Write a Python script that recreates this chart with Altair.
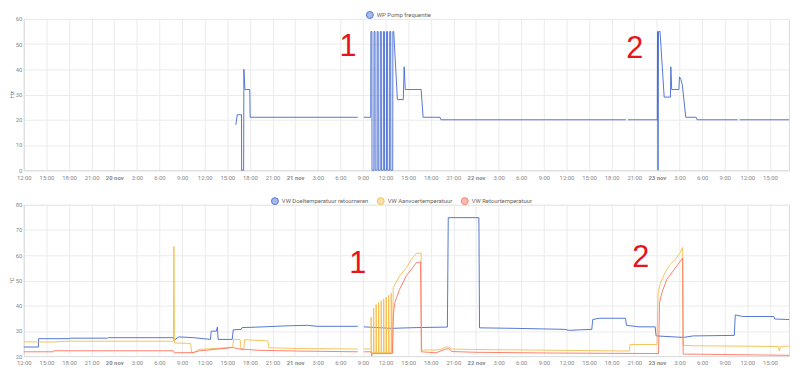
import altair as alt
import pandas as pd

wp_name = "WP Pomp frequentie"
wp_time = [
    "2023-11-20 16:08", "2023-11-20 16:19", "2023-11-20 16:53", "2023-11-20 16:54", "2023-11-20 17:10",
    "2023-11-20 17:12", "2023-11-20 17:20", "2023-11-20 17:59", "2023-11-20 18:02", "2023-11-21 08:19",
    "2023-11-21 08:40",
    "2023-11-21 09:07", "2023-11-21 10:02",
    "2023-11-21 10:03", "2023-11-21 10:11", "2023-11-21 10:12", "2023-11-21 10:27",
    "2023-11-21 10:28", "2023-11-21 10:36", "2023-11-21 10:37", "2023-11-21 10:52",
    "2023-11-21 10:53", "2023-11-21 11:01", "2023-11-21 11:02", "2023-11-21 11:17",
    "2023-11-21 11:18", "2023-11-21 11:26", "2023-11-21 11:27", "2023-11-21 11:42",
    "2023-11-21 11:43", "2023-11-21 11:51", "2023-11-21 11:52", "2023-11-21 12:07",
    "2023-11-21 12:08", "2023-11-21 12:16", "2023-11-21 12:17", "2023-11-21 12:32",
    "2023-11-21 12:33", "2023-11-21 12:41", "2023-11-21 12:42", "2023-11-21 12:57",
    "2023-11-21 12:58", "2023-11-21 13:05",
    "2023-11-21 13:34", "2023-11-21 14:21", "2023-11-21 14:28", "2023-11-21 14:37", "2023-11-21 16:43",
    "2023-11-21 16:59", "2023-11-21 19:13", "2023-11-21 19:21", "2023-11-22 19:53",
    "2023-11-22 20:00",
    "2023-11-22 20:09", "2023-11-23 00:03", "2023-11-23 00:05", "2023-11-23 00:09", "2023-11-23 00:13",
    "2023-11-23 00:25", "2023-11-23 00:58", "2023-11-23 01:48", "2023-11-23 01:51", "2023-11-23 01:58",
    "2023-11-23 02:55", "2023-11-23 03:00", "2023-11-23 03:11", "2023-11-23 03:22", "2023-11-23 03:50",
    "2023-11-23 05:13", "2023-11-23 05:20", "2023-11-23 10:43",
    "2023-11-23 10:50",
    "2023-11-23 10:59", "2023-11-23 17:33",
]
wp_value = [
    18, 22, 22, 0, 0,
    40, 32, 32, 21, 21,
    None,
    21, 21,
    55, 55, 0, 0,
    55, 55, 0, 0,
    55, 55, 0, 0,
    55, 55, 0, 0,
    55, 55, 0, 0,
    55, 55, 0, 0,
    55, 55, 0, 0,
    55, 55,
    28, 28, 41, 32, 32,
    21, 21, 20, 20,
    None,
    20, 20, 55, 0, 55,
    55, 29, 29, 41, 32,
    32, 37, 36, 34, 21,
    21, 20, 20,
    None,
    20, 20,
]

doel_name = "VW Doeltemperatuur retourneren"
doel_time = [
    "2023-11-19 12:00", "2023-11-19 13:56", "2023-11-19 13:58", "2023-11-19 18:08", "2023-11-19 18:12",
    "2023-11-19 23:07", "2023-11-19 23:11", "2023-11-20 07:51", "2023-11-20 07:59", "2023-11-20 08:34",
    "2023-11-20 10:32", "2023-11-20 12:46", "2023-11-20 12:52", "2023-11-20 13:33", "2023-11-20 13:41",
    "2023-11-20 13:47", "2023-11-20 15:39", "2023-11-20 15:47", "2023-11-20 16:50", "2023-11-20 16:58",
    "2023-11-20 19:04", "2023-11-20 23:00", "2023-11-21 01:38", "2023-11-21 02:56", "2023-11-21 08:19",
    "2023-11-21 08:40",
    "2023-11-21 09:07", "2023-11-21 12:47", "2023-11-21 16:04", "2023-11-21 20:12", "2023-11-21 20:19",
    "2023-11-22 00:23", "2023-11-22 00:28", "2023-11-22 05:11", "2023-11-22 11:45", "2023-11-22 12:25",
    "2023-11-22 13:43", "2023-11-22 15:22", "2023-11-22 15:29", "2023-11-22 16:21", "2023-11-22 19:50",
    "2023-11-22 19:58", "2023-11-22 21:36", "2023-11-22 23:46", "2023-11-22 23:54", "2023-11-23 03:31",
    "2023-11-23 04:49", "2023-11-23 10:16", "2023-11-23 10:24", "2023-11-23 11:23", "2023-11-23 15:31",
    "2023-11-23 15:38", "2023-11-23 17:33",
]
doel_value = [
    23.6, 23.6, 26.9, 26.9, 27.1,
    27.1, 27.3, 27.3, 26.4, 27.6,
    27.3, 26.6, 29.9, 29.9, 31.5,
    26.6, 26.6, 30.4, 30.6, 31.3,
    31.5, 32.0, 32.2, 31.8, 31.8,
    None,
    31.6, 31.0, 31.3, 31.5, 74.9,
    74.9, 31.2, 31.0, 30.6, 30.2,
    30.4, 30.6, 34.5, 35.0, 35.0,
    32.2, 31.6, 31.6, 28.0, 27.4,
    28.0, 28.2, 36.3, 35.7, 35.7,
    34.7, 34.5,
]

aanvoer_name = "VW Aanvoertemperatuur"
aanvoer_time = [
    "2023-11-19 12:00", "2023-11-19 15:54", "2023-11-19 18:08", "2023-11-20 07:51", "2023-11-20 07:55",
    "2023-11-20 07:59", "2023-11-20 10:08", "2023-11-20 10:16", "2023-11-20 10:40", "2023-11-20 11:11",
    "2023-11-20 15:43", "2023-11-20 15:50", "2023-11-20 16:42", "2023-11-20 16:50", "2023-11-20 17:10",
    "2023-11-20 17:18", "2023-11-20 20:23", "2023-11-20 20:31", "2023-11-21 00:19", "2023-11-21 08:19",
    "2023-11-21 08:40",
    "2023-11-21 09:07", "2023-11-21 10:04",
    "2023-11-21 10:05", "2023-11-21 10:08", "2023-11-21 10:24",
    "2023-11-21 10:25", "2023-11-21 10:28", "2023-11-21 10:44",
    "2023-11-21 10:45", "2023-11-21 10:48", "2023-11-21 11:04",
    "2023-11-21 11:05", "2023-11-21 11:08", "2023-11-21 11:24",
    "2023-11-21 11:25", "2023-11-21 11:28", "2023-11-21 11:44",
    "2023-11-21 11:45", "2023-11-21 11:48", "2023-11-21 12:04",
    "2023-11-21 12:05", "2023-11-21 12:08", "2023-11-21 12:24",
    "2023-11-21 12:25", "2023-11-21 12:28", "2023-11-21 12:44",
    "2023-11-21 12:45", "2023-11-21 12:48", "2023-11-21 12:56",
    "2023-11-21 13:01", "2023-11-21 13:52", "2023-11-21 14:45", "2023-11-21 15:25", "2023-11-21 16:04",
    "2023-11-21 16:43", "2023-11-21 16:47", "2023-11-21 18:41", "2023-11-21 19:29", "2023-11-21 20:00",
    "2023-11-21 20:24", "2023-11-21 20:47", "2023-11-21 23:56", "2023-11-22 10:26", "2023-11-22 20:21",
    "2023-11-22 20:26", "2023-11-23 00:01", "2023-11-23 00:09", "2023-11-23 00:16", "2023-11-23 00:26",
    "2023-11-23 00:53", "2023-11-23 01:19", "2023-11-23 01:46", "2023-11-23 02:25", "2023-11-23 03:04",
    "2023-11-23 03:25", "2023-11-23 03:29", "2023-11-23 04:49", "2023-11-23 12:26", "2023-11-23 16:06",
    "2023-11-23 16:14", "2023-11-23 16:26", "2023-11-23 17:33",
]
aanvoer_value = [
    25.6, 25.6, 25.9, 25.9, 63.5,
    25.2, 25.0, 21.4, 21.6, 22.6,
    23.5, 26.7, 26.5, 22.4, 22.6,
    26.5, 26.0, 23.3, 23.0, 22.8,
    None,
    22.8, 22.8,
    35.4, 21.4, 21.4,
    39.0, 21.4, 21.4,
    40.5, 21.4, 21.4,
    41.3, 21.4, 21.4,
    42.0, 21.4, 21.4,
    42.7, 21.4, 21.4,
    43.4, 21.4, 21.4,
    44.1, 21.4, 21.4,
    45.0, 21.4, 21.4,
    47.2, 51.8, 55.0, 58.3, 60.7,
    60.9, 22.4, 22.4, 22.8, 23.6,
    23.5, 22.8, 22.6, 22.3, 22.0,
    24.6, 24.6, 44.7, 46.5, 48.5,
    51.8, 54.4, 56.3, 58.3, 60.9,
    63.1, 24.3, 24.1, 23.9, 23.8,
    22.0, 23.9, 23.9,
]

retour_name = "VW Retourtemperatuur"
retour_time = [
    "2023-11-19 12:00", "2023-11-19 15:54", "2023-11-19 15:58", "2023-11-20 07:51", "2023-11-20 07:59",
    "2023-11-20 10:32", "2023-11-20 11:11", "2023-11-20 15:43", "2023-11-20 16:27", "2023-11-20 19:04",
    "2023-11-21 00:19", "2023-11-21 08:19",
    "2023-11-21 08:40",
    "2023-11-21 09:07", "2023-11-21 10:05", "2023-11-21 10:09", "2023-11-21 10:15", "2023-11-21 12:55",
    "2023-11-21 13:02", "2023-11-21 13:14", "2023-11-21 13:52", "2023-11-21 14:45", "2023-11-21 15:25",
    "2023-11-21 16:04", "2023-11-21 16:38", "2023-11-21 16:45", "2023-11-21 18:41", "2023-11-21 20:00",
    "2023-11-21 20:24", "2023-11-21 20:47", "2023-11-21 23:56", "2023-11-22 10:26", "2023-11-23 00:13",
    "2023-11-23 00:21", "2023-11-23 00:40", "2023-11-23 01:19", "2023-11-23 01:58", "2023-11-23 02:38",
    "2023-11-23 03:25", "2023-11-23 03:29", "2023-11-23 17:33",
]
retour_value = [
    21.7, 21.7, 22.1, 22.1, 21.3,
    21.4, 22.0, 23.4, 22.9, 22.3,
    22.0, 21.7,
    None,
    21.7, 21.7, 20.0, 21.0, 21.0,
    36.7, 41.3, 46.5, 51.8, 54.4,
    57.0, 57.4, 21.7, 21.3, 22.8,
    22.9, 21.8, 21.5, 21.2, 21.0,
    41.3, 45.2, 50.5, 53.0, 55.7,
    58.9, 20.8, 20.3,
]

note_label = ["1", "2"]
note_top_time = ["2023-11-21 07:01", "2023-11-22 21:04"]
note_top_value = [49.0, 48.2]
note_bot_time = ["2023-11-21 08:19", "2023-11-22 21:52"]
note_bot_value = [56.5, 58.8]

# x-axis ticks: every 3 hours, 19 nov 12:00 .. 23 nov 15:00
x_tick_start, x_tick_end = "2023-11-19 12:00", "2023-11-23 15:00"
x_domain = ["2023-11-19T12:00:00", "2023-11-23T17:32:00"]

BLUE, ORANGE, RED = "#4269d0", "#f4bd4a", "#ff725c"
BLUE_L, ORANGE_L, RED_L = "#9fb3ea", "#f9dda0", "#ffb5a9"
FONT = "Roboto"


def series_frame(name, times, values):
    rows, seg = [], 0
    for t, v in zip(times, values):
        if v is None:
            seg += 1
            continue
        rows.append({"time": t.replace(" ", "T") + ":00", "value": v, "series": name, "seg": f"s{seg}"})
    return pd.DataFrame(rows)


top_df = series_frame(wp_name, wp_time, wp_value)
bot_df = pd.concat([
    series_frame(doel_name, doel_time, doel_value),
    series_frame(aanvoer_name, aanvoer_time, aanvoer_value),
    series_frame(retour_name, retour_time, retour_value),
], ignore_index=True)

note_top = pd.DataFrame({"time": [t.replace(" ", "T") + ":00" for t in note_top_time],
                         "value": note_top_value, "label": note_label})
note_bot = pd.DataFrame({"time": [t.replace(" ", "T") + ":00" for t in note_bot_time],
                         "value": note_bot_value, "label": note_label})

tick_values = [
    alt.DateTime(year=t.year, month=t.month, date=t.day, hours=t.hour)
    for t in pd.date_range(x_tick_start, x_tick_end, freq="3h")
]

midnight = "hours(datum.value) == 0"
x_axis = alt.Axis(
    title=None, values=tick_values,
    labelExpr=f"{midnight} ? timeFormat(datum.value, '%-d') + ' nov' : timeFormat(datum.value, '%-H:%M')",
    labelFontWeight={"condition": {"test": midnight, "value": "bold"}, "value": "normal"},
    labelColor="#888888", labelFlush=False,
    labelFontSize=6, labelFont=FONT, labelPadding=4, ticks=False,
    gridColor="#ebebeb", domainColor="#dddddd",
)


def y_axis(title, vals):
    return alt.Axis(title=title, values=vals, labelFontSize=6, labelFont=FONT, labelColor="#888888",
                    labelPadding=2, ticks=False, titleFontSize=6, titleFont=FONT, titleColor="#777777",
                    titleFontWeight="normal", titleX=-9, titleY=76,
                    gridColor="#ebebeb", domainColor="#dddddd")


def legend(x, names, lights):
    expr = "'" + lights[-1] + "'"
    for n, c in zip(names[:-1][::-1], lights[:-1][::-1]):
        expr = f"datum.value == '{n}' ? '{c}' : ({expr})"
    return alt.Legend(title=None, orient="none", legendX=x, legendY=-8, direction="horizontal",
                      symbolType="circle", symbolSize=49, symbolStrokeWidth=1,
                      symbolFillColor={"expr": expr},
                      labelFontSize=6, labelFont=FONT, labelColor="#666666", labelOffset=3,
                      columnPadding=6)


def panel(df, names, colors, lights, ydom, yvals, ytitle, legx, notes):
    x = alt.X("time:T", scale=alt.Scale(domain=x_domain), axis=x_axis)
    y = alt.Y("value:Q", scale=alt.Scale(domain=ydom, nice=False), axis=y_axis(ytitle, yvals))
    color = alt.Color("series:N", scale=alt.Scale(domain=names, range=colors),
                      legend=legend(legx, names, lights))
    lines = alt.Chart(df).mark_line(strokeWidth=1, opacity=0.9).encode(
        x=x, y=y, color=color, detail="seg:N",
    )
    text = alt.Chart(notes).mark_text(fontSize=31, color="#e8141b").encode(x=x, y=y, text="label:N")
    return alt.layer(lines, text).properties(width=774, height=153)


top = panel(top_df, [wp_name], [BLUE], [BLUE_L], [0, 60], [0, 10, 20, 30, 40, 50, 60], "Hz", 346, note_top)
bottom = panel(bot_df, [doel_name, aanvoer_name, retour_name], [BLUE, ORANGE, RED],
               [BLUE_L, ORANGE_L, RED_L], [20, 80], [20, 30, 40, 50, 60, 70, 80], "°C", 250, note_bot)

chart = alt.vconcat(top, bottom, spacing=15).resolve_scale(color="independent").properties(padding=0)

chart.save("out.html", embed_options={"renderer": "svg", "actions": False})
